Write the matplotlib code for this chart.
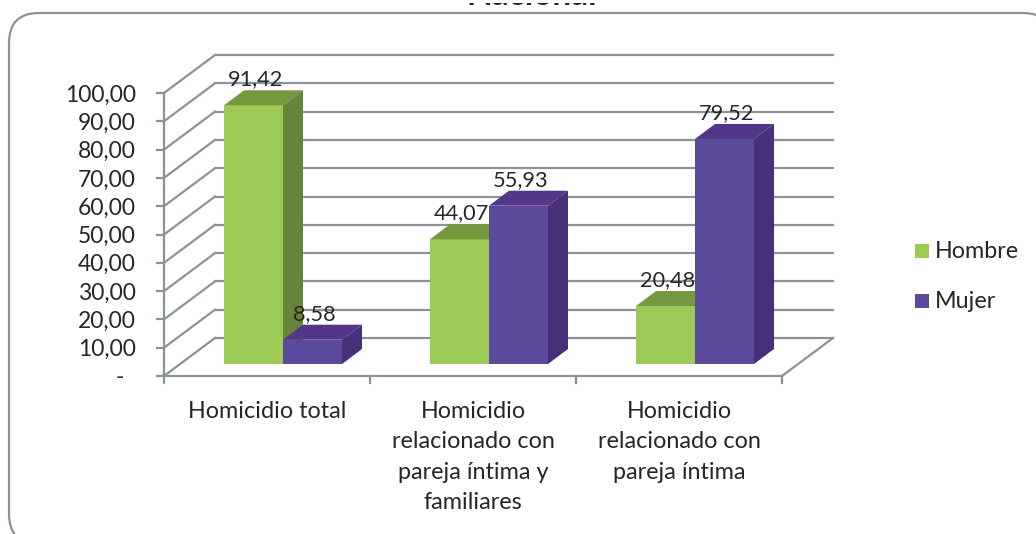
import matplotlib
matplotlib.use("Agg")
import matplotlib.pyplot as plt
from matplotlib.patches import FancyBboxPatch, Polygon
from matplotlib.transforms import Affine2D

categorias = ["Homicidio total",
              "Homicidio\nrelacionado con\npareja íntima y\nfamiliares",
              "Homicidio\nrelacionado con\npareja íntima"]
hombre = [91.42, 44.07, 20.48]
mujer = [8.58, 55.93, 79.52]
ticks_y = [0, 10, 20, 30, 40, 50, 60, 70, 80, 90, 100]
etiquetas_y = ["-  ", "10,00", "20,00", "30,00", "40,00", "50,00", "60,00",
               "70,00", "80,00", "90,00", "100,00"]

W, H = 1036, 534
GRIS = "#8b9396"
TEXTO = "#262626"
plt.rcParams["font.family"] = ["Lato", "DejaVu Sans"]

fig = plt.figure(figsize=(W / 100, H / 100), dpi=100)

# capa de fondo en pixeles, para el marco redondeado y el titulo cortado
fondo = fig.add_axes([0, 0, 1, 1])
fondo.set_xlim(0, W)
fondo.set_ylim(H, 0)
fondo.axis("off")
fondo.add_patch(FancyBboxPatch((9, 13), 1044, 531, boxstyle="round,pad=0,rounding_size=30",
                               fc="white", ec=GRIS, lw=1.6))
fondo.text(532, 5, "Nacional", ha="center", va="baseline", fontsize=24, fontweight="bold", color=TEXTO, zorder=2)
# en la referencia solo asoma el pie de las letras
fondo.add_patch(plt.Rectangle((0, 0), W, 3, fc="white", ec="none", zorder=3))

# plano frontal del grafico 3D
x0, x1, y_base, y_top = 164, 782, 376, 93
ax = fig.add_axes([x0 / W, 1 - y_base / H, (x1 - x0) / W, (y_base - y_top) / H])
ax.set_xlim(0, 3)
ax.set_ylim(0, 100)
ax.patch.set_alpha(0)
for s in ax.spines.values():
    s.set_visible(False)
ax.set_xticks([])
ax.set_yticks([])

# profundidad de la pared y de las barras, en pixeles
t_pared = ax.transData + Affine2D().translate(51, 38)
t_frente = ax.transData + Affine2D().translate(16, 12)
t_atras = ax.transData + Affine2D().translate(36, 27)


def linea_px(p, q):
    ax.plot([p[0], q[0]], [p[1], q[1]], color=GRIS, lw=1.6, transform=None, clip_on=False, zorder=1)


for v, etiqueta in zip(ticks_y, etiquetas_y):
    ax.plot([0, 3], [v, v], color=GRIS, lw=1.6, transform=t_pared, clip_on=False, zorder=1)
    p0 = ax.transData.transform((0, v))
    linea_px(p0, t_pared.transform((0, v)))
    linea_px((p0[0] - 7, p0[1]), p0)
    ax.annotate(etiqueta, (0, v), xytext=(-28, -2), textcoords="offset pixels",
                ha="right", va="center", fontsize=16.5, color=TEXTO)

ax.plot([0, 0], [0, 100], color=GRIS, lw=1.6, clip_on=False, zorder=1)
ax.plot([0, 3], [0, 0], color=GRIS, lw=1.6, clip_on=False, zorder=1)
linea_px(ax.transData.transform((3, 0)), t_pared.transform((3, 0)))
for i in range(4):
    q = ax.transData.transform((i, 0))
    linea_px(q, (q[0], q[1] - 7))

for i, c in enumerate(categorias):
    ax.annotate(c, (i + 0.5, 0), xytext=(0, -25), textcoords="offset pixels", ha="center", va="top",
                fontsize=16.8, color=TEXTO, linespacing=1.545)

ancho = 59 / 206
series = [(hombre, -1, "#9dc956", "#76983f", "#67853a", "Hombre"),
          (mujer, 0, "#5b4a9b", "#53368a", "#46307a", "Mujer")]


def barra_3d(x, alto, cara, tapa, lado, z):
    ax.bar(x, alto, ancho, align="edge", color=cara, transform=t_frente, zorder=z, clip_on=False)
    a = t_frente.transform([(x, 0), (x + ancho, 0), (x + ancho, alto), (x, alto)])
    b = t_atras.transform([(x, 0), (x + ancho, 0), (x + ancho, alto), (x, alto)])
    ax.add_patch(Polygon([a[3], a[2], b[2], b[3]], fc=tapa, ec="none", transform=None, zorder=z, clip_on=False))
    ax.add_patch(Polygon([a[1], b[1], b[2], a[2]], fc=lado, ec="none", transform=None, zorder=z, clip_on=False))


z = 3
for i in range(3):
    for valores, pos, cara, tapa, lado, nombre in series:
        x = i + 0.5 + pos * ancho
        barra_3d(x, valores[i], cara, tapa, lado, z)
        ax.annotate(f"{valores[i]:.2f}".replace(".", ","), (x + ancho / 2, valores[i]),
                    xytext=(18, 28), textcoords="offset pixels", ha="center", va="bottom",
                    fontsize=15.7, color=TEXTO, zorder=20)
        z += 1

# leyenda
for yy, (valores, pos, cara, tapa, lado, nombre) in zip([251, 301], series):
    fondo.add_patch(plt.Rectangle((915, yy - 7), 14, 14, fc=cara, ec="none"))
    fondo.text(935, yy + 1, nombre, ha="left", va="center", fontsize=16.8, color=TEXTO)

fig.savefig("out.png", dpi=100)
